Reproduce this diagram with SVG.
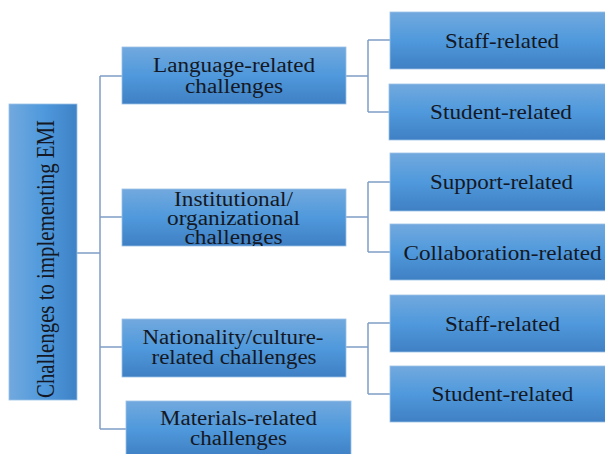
<svg xmlns="http://www.w3.org/2000/svg" width="605" height="454" viewBox="0 0 605 454">
  <defs>
    <linearGradient id="boxFill" x1="0" y1="0" x2="0" y2="1">
      <stop offset="0" stop-color="#72a9de"/>
      <stop offset="0.5" stop-color="#4f99dc"/>
      <stop offset="1" stop-color="#3f80c3"/>
    </linearGradient>
    <linearGradient id="rootFill" x1="0" y1="0" x2="1" y2="0">
      <stop offset="0" stop-color="#72a9de"/>
      <stop offset="0.5" stop-color="#4f99dc"/>
      <stop offset="1" stop-color="#3f82c6"/>
    </linearGradient>
    <clipPath id="instClip">
      <rect x="122" y="189" width="224" height="57"/>
    </clipPath>
  </defs>
  <style>
    .box { fill: url(#boxFill); stroke: #9cc0e6; stroke-width: 0.8; }
    .root { fill: url(#rootFill); stroke: #9cc0e6; stroke-width: 0.8; }
    .lbl { font-family: "Liberation Serif", "Times New Roman", serif; fill: #141824; text-anchor: middle; }
    .mid { font-size: 20px; }
    .leaf { font-size: 21px; }
    .link { fill: none; stroke: #7f9fc6; stroke-width: 1.5; }
  </style>

  <!-- connectors -->
  <g id="connectors">
    <path class="link" d="M77 253 H100 M100 76 V429 M100 76 H122 M100 217 H122 M100 347 H122 M100 429 H126"/>
    <path class="link" d="M346 76 H368 M368 40 V112 M368 40 H390 M368 112 H390"/>
    <path class="link" d="M346 217 H368 M368 182 V252 M368 182 H390 M368 252 H390"/>
    <path class="link" d="M346 347 H368 M368 323 V394 M368 323 H390 M368 394 H390"/>
  </g>

  <!-- root -->
  <g id="root">
    <rect class="root" x="9" y="104" width="68" height="296"/>
    <text class="lbl" font-size="25" transform="translate(54 259) rotate(-90)" textLength="278" lengthAdjust="spacingAndGlyphs">Challenges to implementing EMI</text>
  </g>

  <!-- second level -->
  <g id="language">
    <rect class="box" x="122" y="47" width="224" height="57"/>
    <text class="lbl mid" x="234" y="72" textLength="162" lengthAdjust="spacingAndGlyphs">Language-related</text>
    <text class="lbl mid" x="234" y="93" textLength="98" lengthAdjust="spacingAndGlyphs">challenges</text>
  </g>
  <g id="institutional">
    <rect class="box" x="122" y="189" width="224" height="57"/>
    <g clip-path="url(#instClip)">
      <text class="lbl mid" x="233.5" y="206" textLength="119" lengthAdjust="spacingAndGlyphs">Institutional/</text>
      <text class="lbl mid" x="233.5" y="225" textLength="133" lengthAdjust="spacingAndGlyphs">organizational</text>
      <text class="lbl mid" x="233.5" y="244" textLength="98" lengthAdjust="spacingAndGlyphs">challenges</text>
    </g>
  </g>
  <g id="nationality">
    <rect class="box" x="122" y="319" width="224" height="58"/>
    <text class="lbl mid" x="233" y="343.5" textLength="181" lengthAdjust="spacingAndGlyphs">Nationality/culture-</text>
    <text class="lbl mid" x="234" y="363.5" textLength="165" lengthAdjust="spacingAndGlyphs">related challenges</text>
  </g>
  <g id="materials">
    <rect class="box" x="126" y="401" width="225" height="56"/>
    <text class="lbl mid" x="238.5" y="425" textLength="157" lengthAdjust="spacingAndGlyphs">Materials-related</text>
    <text class="lbl mid" x="238.5" y="445" textLength="97" lengthAdjust="spacingAndGlyphs">challenges</text>
  </g>

  <!-- third level -->
  <g id="lang-staff">
    <rect class="box" x="390" y="12" width="224" height="57"/>
    <text class="lbl leaf" x="502" y="48" textLength="114" lengthAdjust="spacingAndGlyphs">Staff-related</text>
  </g>
  <g id="lang-student">
    <rect class="box" x="389" y="84" width="225" height="56"/>
    <text class="lbl leaf" x="501" y="119" textLength="142" lengthAdjust="spacingAndGlyphs">Student-related</text>
  </g>
  <g id="inst-support">
    <rect class="box" x="390" y="153" width="224" height="58"/>
    <text class="lbl leaf" x="501.5" y="188.5" textLength="143" lengthAdjust="spacingAndGlyphs">Support-related</text>
  </g>
  <g id="inst-collaboration">
    <rect class="box" x="390" y="224" width="224" height="56"/>
    <text class="lbl leaf" x="502.5" y="259.5" textLength="198" lengthAdjust="spacingAndGlyphs">Collaboration-related</text>
  </g>
  <g id="nat-staff">
    <rect class="box" x="390" y="295" width="224" height="57"/>
    <text class="lbl leaf" x="502.5" y="330.5" textLength="115" lengthAdjust="spacingAndGlyphs">Staff-related</text>
  </g>
  <g id="nat-student">
    <rect class="box" x="390" y="366" width="224" height="56"/>
    <text class="lbl leaf" x="502.5" y="401" textLength="142" lengthAdjust="spacingAndGlyphs">Student-related</text>
  </g>
</svg>
